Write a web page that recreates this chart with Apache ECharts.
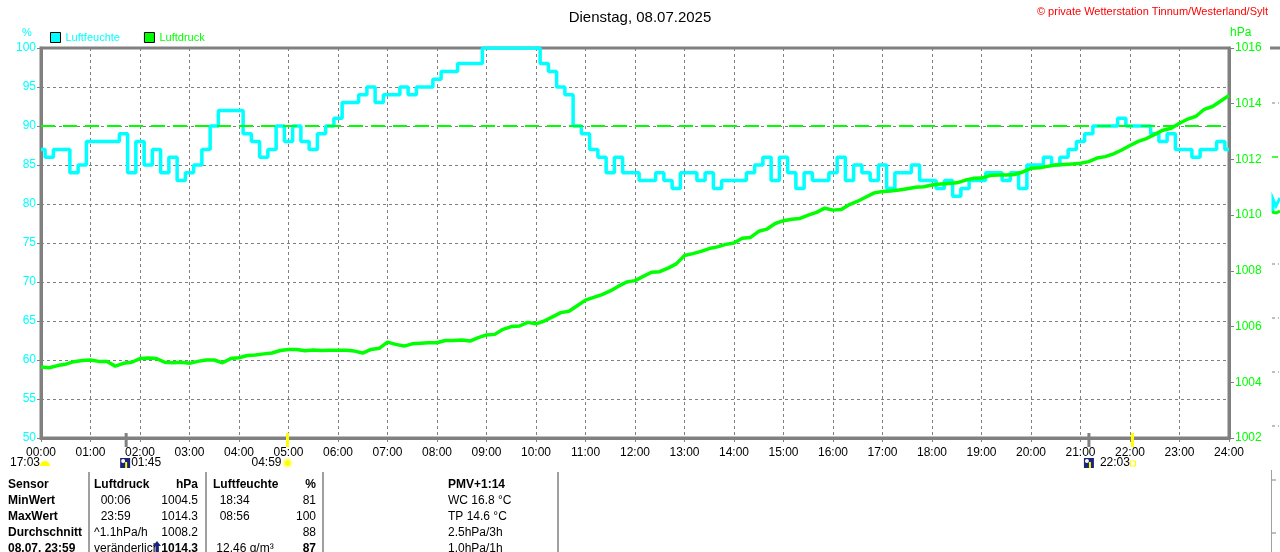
<!DOCTYPE html>
<html><head><meta charset="utf-8">
<script src="https://cdn.jsdelivr.net/npm/echarts@6/dist/echarts.min.js"></script>
<style>html,body{margin:0;padding:0;background:#fff}#c{width:1280px;height:552px}</style>
</head><body><div id="c"></div>
<script>
// ---- data (10-minute samples, 00:00 .. 24:00) ----
const hourLabels = ["00:00","01:00","02:00","03:00","04:00","05:00","06:00","07:00","08:00","09:00","10:00","11:00","12:00","13:00","14:00","15:00","16:00","17:00","18:00","19:00","20:00","21:00","22:00","23:00","24:00"];
const humidityTicks = [50,55,60,65,70,75,80,85,90,95,100];
const pressureTicks = [1002,1004,1006,1008,1010,1012,1014,1016];
const humidity = [
 87,86,87,87,84,85, 88,88,88,88,89,84, 88,85,87,84,86,83, 84,85,87,90,92,92,
 92,89,88,86,87,90, 88,90,88,87,89,90, 91,93,93,94,95,93, 94,94,95,94,95,95,
 96,97,97,98,98,98, 100,100,100,100,100,100, 100,98,97,95,94,90, 89,87,86,84,86,84,
 84,83,83,84,83,82, 84,84,83,84,82,83, 83,83,84,85,86,83, 86,84,82,84,83,83,
 84,86,83,85,84,83, 85,82,84,84,85,83, 83,82,83,81,82,83, 83,84,84,83,84,82,
 85,85,86,85,86,87, 88,89,90,90,90,91, 90,90,90,89,88,89, 87,87,86,87,87,88,
 87];
const pressure = [
 1004.55,1004.52,1004.6,1004.65,1004.74,1004.78, 1004.8,1004.75,1004.75,1004.58,1004.68,1004.72,
 1004.85,1004.87,1004.85,1004.72,1004.7,1004.72, 1004.68,1004.75,1004.8,1004.8,1004.7,1004.85,
 1004.88,1004.96,1004.98,1005.02,1005.05,1005.14, 1005.18,1005.18,1005.13,1005.16,1005.14,1005.15,
 1005.15,1005.15,1005.12,1005.05,1005.18,1005.22, 1005.44,1005.36,1005.3,1005.38,1005.4,1005.42,
 1005.42,1005.5,1005.5,1005.52,1005.48,1005.6, 1005.7,1005.72,1005.9,1006.0,1006.02,1006.15,
 1006.1,1006.2,1006.35,1006.5,1006.55,1006.75, 1006.95,1007.05,1007.15,1007.28,1007.45,1007.6,
 1007.65,1007.8,1007.95,1007.97,1008.1,1008.25, 1008.55,1008.62,1008.7,1008.8,1008.86,1008.95,
 1009.0,1009.17,1009.2,1009.42,1009.5,1009.7, 1009.8,1009.85,1009.88,1010.0,1010.1,1010.25,
 1010.18,1010.2,1010.38,1010.5,1010.65,1010.8, 1010.85,1010.87,1010.9,1010.95,1011.0,1011.02,
 1011.08,1011.12,1011.14,1011.16,1011.25,1011.32, 1011.33,1011.42,1011.44,1011.44,1011.46,1011.55,
 1011.68,1011.7,1011.75,1011.8,1011.82,1011.84, 1011.86,1011.92,1012.05,1012.1,1012.2,1012.34,
 1012.5,1012.65,1012.75,1012.9,1013.05,1013.12, 1013.3,1013.45,1013.55,1013.8,1013.9,1014.1,
 1014.3];
const humidityLimit = 90;
const titleText = "Dienstag, 08.07.2025";
const copyrightText = "\u00A9 private Wetterstation Tinnum/Westerland/Sylt";
// astro events (hours)
const moonEvents = [1.72, 21.17];
const sunEvents = [4.98, 22.05];
const tableRows = [
 ["Sensor","Luftdruck","hPa","Luftfeuchte","%","PMV+1:14"],
 ["MinWert","  00:06","1004.5","  18:34","81","WC 16.8 \u00B0C"],
 ["MaxWert","  23:59","1014.3","  08:56","100","TP 14.6 \u00B0C"],
 ["Durchschnitt","^1.1hPa/h","1008.2","","88","2.5hPa/3h"],
 ["08.07. 23:59","ver\u00E4nderlich","1014.3"," 12.46 g/m\u00B3","87","1.0hPa/1h"]
];

const FONT = '"Liberation Sans", Arial, sans-serif';
const GRAY = '#808080';
const chart = echarts.init(document.getElementById('c'));
const step = 1/6;

chart.setOption({
  animation: false,
  backgroundColor: '#fff',
  textStyle: {fontFamily: FONT},
  title: {text: titleText, left: 'center', top: 5,
    textStyle: {fontSize: 15, fontWeight: 'normal', color: '#000', fontFamily: FONT}},
  legend: {left: 50, top: 32, padding: 0, itemWidth: 10, itemHeight: 10, itemGap: 24, icon: 'rect',
    data: [
      {name: 'Luftfeuchte', itemStyle: {color: '#00ffff', borderColor: '#000', borderWidth: 1}, textStyle: {color: '#00ffff'}},
      {name: 'Luftdruck', itemStyle: {color: '#00ff00', borderColor: '#000', borderWidth: 1}, textStyle: {color: '#00ff00'}}
    ],
    textStyle: {fontSize: 11, fontFamily: FONT}},
  grid: {left: 41, right: 51, top: 48, bottom: 114, show: true, borderColor: GRAY, borderWidth: 3},
  xAxis: {type: 'value', min: 0, max: 24, interval: 1,
    axisLine: {show: true, lineStyle: {color: GRAY, width: 3}},
    axisTick: {show: true, length: 4, lineStyle: {color: GRAY}},
    axisLabel: {color: '#000', fontSize: 12, margin: 9, fontFamily: FONT,
      formatter: v => hourLabels[Math.round(v)], showMinLabel: true, showMaxLabel: true},
    splitLine: {show: true, lineStyle: {color: GRAY, type: [3,3], width: 1}}},
  yAxis: [
    {type: 'value', min: 50, max: 100, interval: 5, position: 'left',
      axisLine: {show: true, lineStyle: {color: GRAY, width: 3}},
      axisTick: {show: true, length: 4, lineStyle: {color: GRAY}},
      axisLabel: {color: '#00ffff', fontSize: 12, margin: 5, fontFamily: FONT,
        formatter: v => humidityTicks.includes(v) ? String(v) : ''},
      splitLine: {show: true, lineStyle: {color: GRAY, type: [3,3], width: 1}}},
    {type: 'value', min: 1002, max: 1016, interval: 2, position: 'right',
      axisLine: {show: true, lineStyle: {color: GRAY, width: 3}},
      axisTick: {show: true, length: 5, lineStyle: {color: GRAY}},
      axisLabel: {color: '#00ff00', fontSize: 12, margin: 6, fontFamily: FONT,
        formatter: v => pressureTicks.includes(v) ? String(v) : ''},
      splitLine: {show: false}}
  ],
  series: [
    {name: 'Luftfeuchte', type: 'line', yAxisIndex: 0, step: 'middle', symbol: 'none',
      data: humidity.map((v, i) => [i * step, v]),
      lineStyle: {color: '#00ffff', width: 3.5}, itemStyle: {color: '#00ffff'}, z: 3,
      markLine: {silent: true, symbol: 'none', label: {show: false},
        lineStyle: {color: '#00ff00', type: [14,8], width: 2},
        data: [{yAxis: humidityLimit}]}},
    {name: 'Luftdruck', type: 'line', yAxisIndex: 1, symbol: 'none',
      data: pressure.map((v, i) => [i * step, v]),
      lineStyle: {color: '#00ff00', width: 3.5}, itemStyle: {color: '#00ff00'}, z: 4}
  ]
});

// ---- decorations: astro markers, info table, neighbour-chart fragment ----
const g = [];
const px = h => chart.convertToPixel({xAxisIndex: 0}, h);
const yBottom = chart.convertToPixel({yAxisIndex: 0}, 50);
function txt(x, y, s, opts) {
  opts = opts || {};
  g.push({type: 'text', z: 20, style: {x: x, y: y, text: s, fill: opts.fill || '#000',
    font: (opts.bold ? 'bold ' : '') + (opts.size || 12) + 'px ' + FONT,
    textAlign: opts.align || 'left', textVerticalAlign: 'middle'}});
}

txt(1268, 12, copyrightText, {fill: '#ff0000', size: 11, align: 'right'});
txt(27, 33, '%', {fill: '#00ffff', size: 11, align: 'center'});
txt(1230, 33, 'hPa', {fill: '#00ff00', size: 12});

moonEvents.forEach(h => {
  const x = px(h);
  g.push({type: 'line', shape: {x1: x, y1: yBottom - 5, x2: x, y2: yBottom + 9}, style: {stroke: GRAY, lineWidth: 3}, z: 10});
});
sunEvents.forEach(h => {
  const x = px(h);
  g.push({type: 'line', shape: {x1: x, y1: yBottom - 5, x2: x, y2: yBottom + 9}, style: {stroke: '#ffff00', lineWidth: 3}, z: 10});
});
// icons + times under the axis
const iconY = 463;
txt(10, iconY, '17:03');
g.push({type: 'sector', shape: {cx: 45, cy: iconY + 3, r: 5, startAngle: Math.PI, endAngle: 2 * Math.PI}, style: {fill: '#ffff00'}});
function moonIcon(x) {
  g.push({type: 'rect', shape: {x: x, y: iconY - 5, width: 10, height: 10}, style: {fill: '#1a237e'}});
  g.push({type: 'circle', shape: {cx: x + 3, cy: iconY - 2, r: 2}, style: {fill: '#ffffff'}});
  g.push({type: 'rect', shape: {x: x + 5, y: iconY - 1, width: 2, height: 6}, style: {fill: '#ffff00'}});
}
moonIcon(px(moonEvents[0]) - 6);
txt(px(moonEvents[0]) + 5, iconY, '01:45');
txt(px(sunEvents[0]) - 6, iconY, '04:59', {align: 'right'});
g.push({type: 'circle', shape: {cx: px(sunEvents[0]), cy: iconY, r: 4}, style: {fill: '#ffff00', stroke: '#ffffa0', lineWidth: 2}});
moonIcon(px(moonEvents[1]) - 5);
txt(px(moonEvents[1]) + 11, iconY, '22:03');
g.push({type: 'rect', shape: {x: px(sunEvents[1]) - 2, y: iconY - 2, width: 5, height: 5}, style: {fill: 'none', stroke: '#ffff00', lineWidth: 1}});

// table separators
[89, 206, 323, 558].forEach(x => g.push({type: 'line', shape: {x1: x, y1: 472, x2: x, y2: 552}, style: {stroke: '#a0a0a0', lineWidth: 2}}));
const rowY = [485, 501, 517, 533, 549];
tableRows.forEach((r, i) => {
  const y = rowY[i];
  const head = i === 0;
  const last = i === 4;
  txt(8, y, r[0], {bold: true});
  txt(94, y, r[1], {bold: head});
  txt(198, y, r[2], {bold: head || last, align: 'right'});
  txt(213, y, r[3], {bold: head});
  txt(316, y, r[4], {bold: head || last, align: 'right'});
  txt(448, y, r[5], {bold: head});
});
// trend arrow in last row
g.push({type: 'polygon', z: 21, shape: {points: [[157, 541], [153, 546], [155.5, 546], [155.5, 553], [158.5, 553], [158.5, 546], [161, 546]]}, style: {fill: '#1a237e'}});

// fragment of the neighbouring chart at the right edge
g.push({type: 'line', shape: {x1: 1270, y1: 48, x2: 1280, y2: 48}, style: {stroke: GRAY, lineWidth: 3}});
[103, 264, 318, 372, 426].forEach(y => {
  g.push({type: 'line', shape: {x1: 1272, y1: y, x2: 1275, y2: y}, style: {stroke: GRAY, lineWidth: 1}});
  g.push({type: 'line', shape: {x1: 1278, y1: y, x2: 1279, y2: y}, style: {stroke: GRAY, lineWidth: 1}});
});
g.push({type: 'line', shape: {x1: 1272, y1: 157, x2: 1278, y2: 157}, style: {stroke: '#00ff00', lineWidth: 1.5}});
g.push({type: 'polyline', shape: {points: [[1273, 212], [1273, 199], [1276, 206], [1280, 198]]}, style: {stroke: '#00ffff', lineWidth: 3}});
g.push({type: 'polyline', shape: {points: [[1272, 212], [1276, 213], [1280, 211]]}, style: {stroke: '#00ff00', lineWidth: 3}});
g.push({type: 'line', shape: {x1: 1271.5, y1: 470, x2: 1271.5, y2: 552}, style: {stroke: '#a0a0a0', lineWidth: 1}});
[480, 533].forEach(y => g.push({type: 'line', shape: {x1: 1272, y1: y, x2: 1276, y2: y}, style: {stroke: GRAY, lineWidth: 1}}));

chart.setOption({graphic: g});
</script></body></html>
